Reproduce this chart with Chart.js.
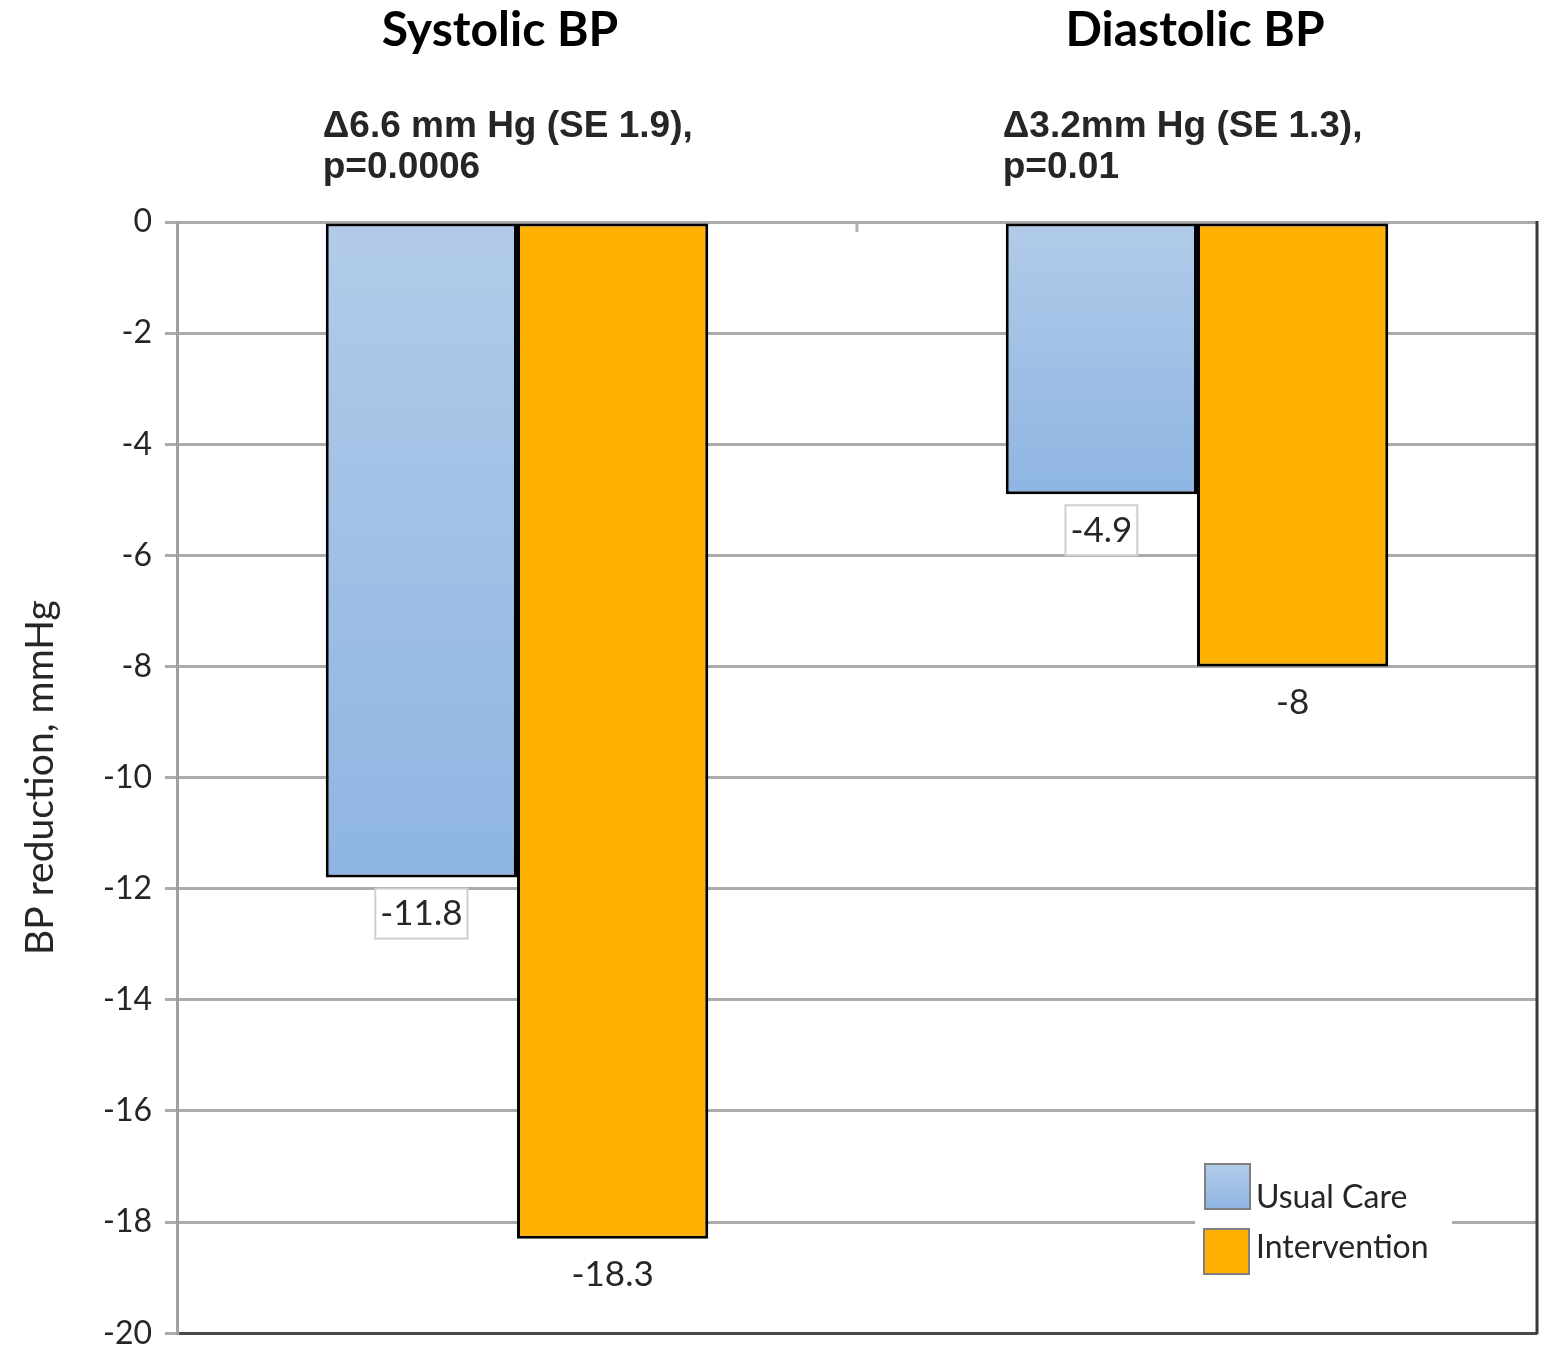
<!DOCTYPE html>
<html>
<head>
<meta charset="utf-8">
<script src="https://cdn.jsdelivr.net/npm/chart.js@4.4.1/dist/chart.umd.min.js"></script>
<style>
  html, body { margin: 0; padding: 0; background: #ffffff; }
  #wrap { width: 1549px; height: 1347px; position: relative; }
</style>
</head>
<body>
<div id="wrap"><canvas id="c" width="1549" height="1347"></canvas></div>
<script>
// Mean change in blood pressure by arm
const categories = ['Systolic BP', 'Diastolic BP'];
const usualCare = [-11.8, -4.9];
const intervention = [-18.3, -8];
const seriesNames = ['Usual Care', 'Intervention'];
const diffNotes = [
  ['\u03946.6 mm Hg (SE 1.9),', 'p=0.0006'],
  ['\u03943.2mm Hg (SE 1.3),', 'p=0.01']
];
const yMin = -20;
const yMax = 0;
const yStep = 2;
const yTitle = 'BP reduction, mmHg';

const FONT = 'Lato, "Open Sans", sans-serif';
const NOTE_FONT = '"Liberation Sans", Arial, sans-serif';
const ORANGE = '#ffb000';

// vertical light-to-mid blue fill, spanning each bar from zero to its value
function blueFill(ctx) {
  const chart = ctx.chart;
  if (!chart.chartArea || ctx.type !== 'data') return '#a3c1e6';
  const y = chart.scales.y;
  const top = y.getPixelForValue(0);
  const bot = y.getPixelForValue(ctx.raw);
  const g = chart.ctx.createLinearGradient(0, top, 0, bot);
  g.addColorStop(0, '#b2cbe9');
  g.addColorStop(1, '#8eb5e2');
  return g;
}

const decorations = {
  id: 'decorations',
  afterDraw(chart) {
    const c = chart.ctx;
    const ca = chart.chartArea;
    const xs = chart.scales.x;
    c.save();

    // frame: right edge and category divider tick
    c.strokeStyle = '#3a3a3a';
    c.lineWidth = 3;
    c.beginPath();
    c.moveTo(ca.right, ca.top - 1);
    c.lineTo(ca.right, ca.bottom + 1);
    c.stroke();
    const mid = (xs.getPixelForValue(0) + xs.getPixelForValue(1)) / 2;
    c.strokeStyle = '#b0b0b0';
    c.lineWidth = 3;
    c.beginPath();
    c.moveTo(mid, ca.top);
    c.lineTo(mid, ca.top + 10);
    c.stroke();

    const m0 = chart.getDatasetMeta(0);
    const m1 = chart.getDatasetMeta(1);

    // panel headings and between-arm differences
    const headShift = [-17, -2];
    categories.forEach((cat, i) => {
      const b0 = m0.data[i], b1 = m1.data[i];
      const left = b0.x - b0.width / 2;
      const cx = (left + b1.x + b1.width / 2) / 2 + headShift[i];
      c.fillStyle = '#000';
      c.font = 'bold 48px ' + FONT;
      c.textAlign = 'center';
      c.textBaseline = 'middle';
      c.fillText(cat, cx, 31);
      c.fillStyle = '#262626';
      c.font = 'bold 37px ' + NOTE_FONT;
      c.textAlign = 'left';
      c.fillText(diffNotes[i][0], left - 3, 127);
      c.fillText(diffNotes[i][1], left - 3, 168);
    });

    // value labels under each bar; usual care values sit in a framed box
    [m0, m1].forEach((meta, di) => {
      const vals = chart.data.datasets[di].data;
      meta.data.forEach((bar, i) => {
        const txt = String(vals[i]);
        const ty = bar.y + 36;
        c.font = '35px ' + FONT;
        c.textAlign = 'center';
        c.textBaseline = 'middle';
        if (di === 0) {
          const w = c.measureText(txt).width + 10;
          c.fillStyle = '#ffffff';
          c.fillRect(bar.x - w / 2, ty - 25, w, 50);
          c.strokeStyle = '#cfcfcf';
          c.lineWidth = 2;
          c.strokeRect(bar.x - w / 2, ty - 25, w, 50);
        }
        c.fillStyle = '#262626';
        c.fillText(txt, bar.x, ty);
      });
    });

    // legend panel
    c.fillStyle = '#ffffff';
    c.fillRect(1195, 1158, 257, 125);
    const swatches = [
      { x: 1205, y: 1164, ty: 1198, fill: null },
      { x: 1204, y: 1229, ty: 1248, fill: ORANGE }
    ];
    swatches.forEach((s, i) => {
      let f = s.fill;
      if (!f) {
        f = c.createLinearGradient(0, s.y, 0, s.y + 45);
        f.addColorStop(0, '#b2cbe9');
        f.addColorStop(1, '#8eb5e2');
      }
      c.fillStyle = f;
      c.fillRect(s.x, s.y, 45, 45);
      c.strokeStyle = '#808080';
      c.lineWidth = 2;
      c.strokeRect(s.x, s.y, 45, 45);
      c.fillStyle = '#262626';
      c.font = '32px ' + FONT;
      c.textAlign = 'left';
      c.textBaseline = 'middle';
      c.fillText(chart.data.datasets[i].label, 1256, s.ty);
    });

    c.restore();
  }
};

new Chart(document.getElementById('c'), {
  type: 'bar',
  data: {
    labels: categories,
    datasets: [
      {
        label: seriesNames[0],
        data: usualCare,
        backgroundColor: blueFill,
        borderColor: '#000000',
        borderWidth: 3,
        borderSkipped: false
      },
      {
        label: seriesNames[1],
        data: intervention,
        backgroundColor: ORANGE,
        borderColor: '#000000',
        borderWidth: 3,
        borderSkipped: false
      }
    ]
  },
  options: {
    responsive: false,
    animation: false,
    events: [],
    layout: { padding: { top: 222, left: 0, right: 12, bottom: 13 } },
    datasets: { bar: { categoryPercentage: 0.5625, barPercentage: 1 } },
    plugins: {
      legend: { display: false },
      tooltip: { enabled: false },
      title: { display: false }
    },
    scales: {
      x: {
        position: 'top',
        grid: { display: false },
        border: { display: false },
        ticks: { display: false },
        afterFit(s) { s.height = 0; }
      },
      y: {
        min: yMin,
        max: yMax,
        afterFit(s) { s.width = 177; },
        ticks: {
          stepSize: yStep,
          padding: 13,
          color: '#262626',
          font: { family: FONT, size: 32, lineHeight: 0.05 }
        },
        grid: {
          color: (ctx) => ctx.tick && ctx.tick.value === yMin ? '#4a4a4a' : '#ababab',
          lineWidth: 3,
          tickLength: 12,
          tickColor: '#ababab'
        },
        border: { color: '#a0a0a0', width: 3 },
        title: {
          display: true,
          text: yTitle,
          color: '#262626',
          font: { family: FONT, size: 39 },
          padding: { top: 17, bottom: 0 }
        }
      }
    }
  },
  plugins: [decorations]
});
</script>
</body>
</html>
